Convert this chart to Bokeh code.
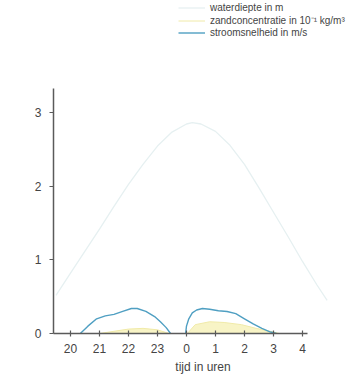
from bokeh.plotting import figure
from bokeh.models import (ColumnDataSource, Range1d, FixedTicker, Legend, LegendItem)
from bokeh.embed import file_html
from bokeh.resources import INLINE

# time axis: hours counted on from 20:00 (24 = 0 h next day)
hour_ticks = [20, 21, 22, 23, 24, 25, 26, 27, 28]
hour_labels = ["20", "21", "22", "23", "0", "1", "2", "3", "4"]
depth_ticks = [0, 1, 2, 3]

# water depth (m)
depth_t = [19.5, 20.0, 20.5, 21.0, 21.5, 22.0, 22.5, 23.0, 23.5, 24.0, 24.2,
           24.5, 25.0, 25.5, 26.0, 26.5, 27.0, 27.5, 28.0, 28.5, 28.85]
depth_m = [0.52, 0.82, 1.12, 1.42, 1.73, 2.03, 2.30, 2.55, 2.74, 2.85, 2.87,
           2.85, 2.75, 2.56, 2.30, 1.98, 1.65, 1.32, 0.98, 0.66, 0.45]

# flow velocity (m/s), ebb and flood
flow1_t = [20.34, 20.6, 20.9, 21.2, 21.5, 21.8, 22.1, 22.3, 22.6, 22.9,
           23.1, 23.3, 23.45]
flow1_v = [0.0, 0.10, 0.20, 0.24, 0.26, 0.30, 0.34, 0.34, 0.30, 0.23,
           0.16, 0.08, 0.0]
flow2_t = [23.97, 24.0, 24.08, 24.2, 24.35, 24.55, 24.8, 25.1, 25.4, 25.7,
           26.0, 26.3, 26.6, 26.9, 27.1]
flow2_v = [0.0, 0.10, 0.20, 0.28, 0.32, 0.34, 0.33, 0.31, 0.30, 0.27,
           0.20, 0.13, 0.07, 0.02, 0.0]

# sand concentration (10^-1 kg/m3)
sand1_t = [21.0, 21.5, 22.0, 22.5, 23.0, 23.4]
sand1_c = [0.0, 0.03, 0.06, 0.07, 0.05, 0.0]
sand2_t = [24.03, 24.3, 24.8, 25.3, 25.9, 26.4, 27.0, 27.2]
sand2_c = [0.0, 0.12, 0.16, 0.15, 0.12, 0.07, 0.02, 0.0]

FONT = "Liberation Sans"
TEXT = "#444444"
AXIS = "#5a5a5a"
WATER = "#e6f0f1"
SAND_FILL = "#f8f4c6"
SAND_LINE = "#f0eaa8"
FLOW = "#4f9fc2"

p = figure(width=352, height=387, output_backend="svg", toolbar_location=None,
           x_range=Range1d(19.414, 29.725), y_range=Range1d(0, 4.53),
           min_border_left=53, min_border_right=0, min_border_top=0,
           min_border_bottom=54)
p.outline_line_color = None
p.grid.visible = False
p.background_fill_color = "white"
p.border_fill_color = "white"

src_depth = ColumnDataSource(dict(t=depth_t, v=depth_m))
src_f1 = ColumnDataSource(dict(t=flow1_t, v=flow1_v))
src_f2 = ColumnDataSource(dict(t=flow2_t, v=flow2_v))
src_s1 = ColumnDataSource(dict(t=sand1_t, v=sand1_c, z=[0] * len(sand1_t)))
src_s2 = ColumnDataSource(dict(t=sand2_t, v=sand2_c, z=[0] * len(sand2_t)))

r_depth = p.line("t", "v", source=src_depth, line_color=WATER, line_width=1.3)

for s in (src_s1, src_s2):
    p.varea(x="t", y1="z", y2="v", source=s, fill_color=SAND_FILL)
r_sand = p.line("t", "v", source=src_s1, line_color=SAND_LINE, line_width=1)
p.line("t", "v", source=src_s2, line_color=SAND_LINE, line_width=1)

r_flow = p.line("t", "v", source=src_f1, line_color=FLOW, line_width=1.4)
p.line("t", "v", source=src_f2, line_color=FLOW, line_width=1.4)

# axes
xa = p.xaxis[0]
xa.ticker = FixedTicker(ticks=hour_ticks)
xa.major_label_overrides = {t: l for t, l in zip(hour_ticks, hour_labels)}
xa.bounds = (19.414, 28.17)
xa.axis_label = "tijd in uren"
ya = p.yaxis[0]
ya.ticker = FixedTicker(ticks=depth_ticks)
ya.bounds = (0, 3.33)

for ax in (xa, ya):
    ax.axis_line_color = AXIS
    ax.axis_line_width = 1.5
    ax.major_tick_line_color = AXIS
    ax.major_tick_line_width = 1.2
    ax.minor_tick_line_color = None
    ax.major_label_text_font = FONT
    ax.major_label_text_font_size = "12px"
    ax.major_label_text_color = TEXT
    ax.axis_label_text_font = FONT
    ax.axis_label_text_font_size = "12px"
    ax.axis_label_text_font_style = "normal"
    ax.axis_label_text_color = TEXT

xa.major_tick_in = 3
xa.major_tick_out = 3
xa.major_label_standoff = 7
xa.axis_label_standoff = 4
ya.major_tick_in = 0
ya.major_tick_out = 4
ya.major_label_standoff = 8

legend = Legend(items=[
    LegendItem(label="waterdiepte in m", renderers=[r_depth]),
    LegendItem(label="zandconcentratie in 10\u207b\u00b9 kg/m\u00b3", renderers=[r_sand]),
    LegendItem(label="stroomsnelheid in m/s", renderers=[r_flow]),
], location=(125, 295))
legend.label_text_font = FONT
legend.label_text_font_size = "10px"
legend.label_text_color = TEXT
legend.label_height = 11
legend.glyph_height = 11
legend.glyph_width = 27
legend.label_standoff = 5
legend.spacing = 0
legend.padding = 0
legend.margin = 0
legend.border_line_alpha = 0
legend.background_fill_alpha = 0
p.add_layout(legend)

open("out.html", "w").write(file_html(p, INLINE))
